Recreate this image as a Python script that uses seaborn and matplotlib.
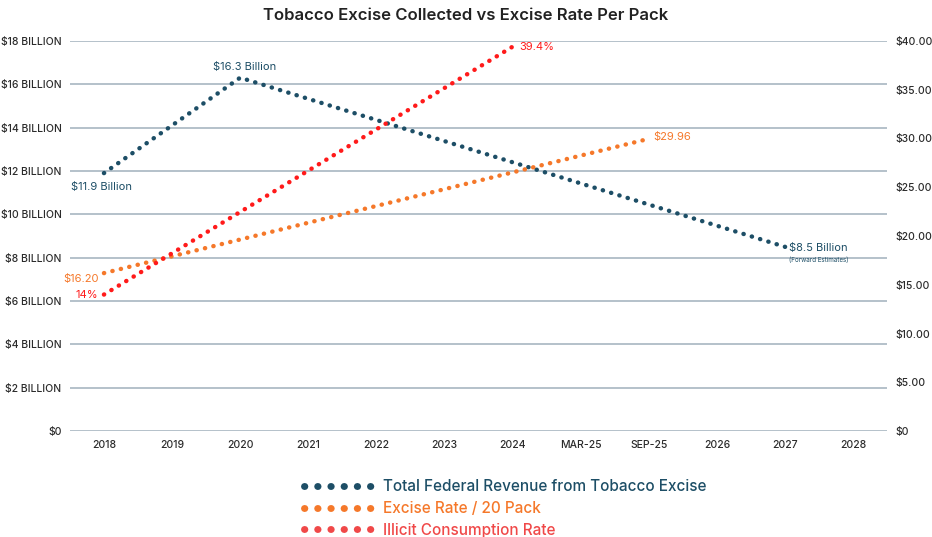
import matplotlib
matplotlib.use("Agg")
import matplotlib.pyplot as plt
from matplotlib.lines import Line2D
import seaborn as sns
import pandas as pd

categories = ["2018", "2019", "2020", "2021", "2022", "2023", "2024",
              "MAR-25", "SEP-25", "2026", "2027", "2028"]

revenue_x = ["2018", "2020", "2027"]
revenue_vals = [11.9, 16.3, 8.5]          # $ billion (left axis)

excise_x = ["2018", "SEP-25"]
excise_vals = [16.20, 29.96]              # $ per 20 pack (right axis)

illicit_x = ["2018", "2024"]
illicit_vals = [14.0, 39.4]               # % (right axis scale)

left_ticks = [0, 2, 4, 6, 8, 10, 12, 14, 16, 18]
left_labels = ["$0"] + [f"${v} BILLION" for v in left_ticks[1:]]
right_ticks = [0, 5, 10, 15, 20, 25, 30, 35, 40]
right_labels = ["$0"] + [f"${v:.2f}" for v in right_ticks[1:]]

NAVY = "#1d4e66"
ORANGE = "#f5782a"
RED = "#ff1a1a"
TXT = "#2b2b2b"

sns.set_theme(style="white")
plt.rcParams["font.family"] = ["Inter", "DejaVu Sans"]

fig = plt.figure(figsize=(9.32, 5.37), dpi=100)
ax = fig.add_axes([0.075, 0.197, 0.877, 0.727])
ax2 = ax.twinx()

pos = {c: i for i, c in enumerate(categories)}
df_rev = pd.DataFrame({"x": [pos[c] for c in revenue_x], "y": revenue_vals})
df_exc = pd.DataFrame({"x": [pos[c] for c in excise_x], "y": excise_vals})
df_ill = pd.DataFrame({"x": [pos[c] for c in illicit_x], "y": illicit_vals})

dot = (0, (0.05, 1.9))
kw = dict(linewidth=3.2, linestyle=dot, dash_capstyle="round")

for a in (ax, ax2):
    for s in a.spines.values():
        s.set_visible(False)

ax.set_ylim(0, 18)
ax2.set_ylim(0, 40)
ax.set_xlim(-0.5, 11.5)
ax.set_yticks(left_ticks)
ax.set_yticklabels(left_labels, fontsize=7.5, color=TXT, fontweight="medium")
ax2.set_yticks(right_ticks)
ax2.set_yticklabels(right_labels, fontsize=7.5, color=TXT, fontweight="medium")
ax.set_xticks(range(len(categories)))
ax.set_xticklabels(categories, fontsize=7.5, color=TXT, fontweight="medium")
ax.tick_params(axis="both", length=0, pad=6)
ax2.tick_params(axis="y", length=0, pad=6)
ax.grid(axis="y", color="#b4c1ca", linewidth=1.4)
ax.grid(axis="x", visible=False)
ax2.grid(False)
ax.set_axisbelow(True)

sns.lineplot(data=df_rev, x="x", y="y", ax=ax, color=NAVY, **kw)
sns.lineplot(data=df_exc, x="x", y="y", ax=ax2, color=ORANGE, **kw)
sns.lineplot(data=df_ill, x="x", y="y", ax=ax2, color=RED, **kw)
ax.set_xlabel(""); ax.set_ylabel("")
ax2.set_xlabel(""); ax2.set_ylabel("")

# annotations
ax.annotate(f"${revenue_vals[0]} Billion", (pos[revenue_x[0]], revenue_vals[0]),
            xytext=(-24, -10), textcoords="offset points", color=NAVY, fontsize=8, va="center")
ax.annotate(f"${revenue_vals[1]} Billion", (pos[revenue_x[1]], revenue_vals[1]),
            xytext=(3, 8), textcoords="offset points", color=NAVY, fontsize=8, ha="center", va="center")
ax.annotate(f"${revenue_vals[2]} Billion", (pos[revenue_x[2]], revenue_vals[2]),
            xytext=(3, -1), textcoords="offset points", color=NAVY, fontsize=8, va="center")
ax.annotate("(Forward Estimates)", (pos[revenue_x[2]], revenue_vals[2]),
            xytext=(3, -9), textcoords="offset points", color=NAVY, fontsize=4.5, va="center")
ax2.annotate(f"${excise_vals[0]:.2f}", (pos[excise_x[0]], excise_vals[0]),
             xytext=(-4, -4), textcoords="offset points", color=ORANGE, fontsize=8, ha="right", va="center")
ax2.annotate(f"${excise_vals[1]:.2f}", (pos[excise_x[1]], excise_vals[1]),
             xytext=(3, 1), textcoords="offset points", color=ORANGE, fontsize=8, va="center")
ax2.annotate(f"{illicit_vals[0]:.0f}%", (pos[illicit_x[0]], illicit_vals[0]),
             xytext=(-4, 0), textcoords="offset points", color=RED, fontsize=8, ha="right", va="center")
ax2.annotate(f"{illicit_vals[1]}%", (pos[illicit_x[1]], illicit_vals[1]),
             xytext=(5, 0), textcoords="offset points", color=RED, fontsize=8, va="center")

fig.text(0.5, 0.972, "Tobacco Excise Collected vs Excise Rate Per Pack",
         ha="center", va="center", fontsize=12, color="#222222", fontweight="semibold")

handles = [Line2D([], [], color=c, linewidth=5, linestyle=(0, (0.05, 1.85)),
                  dash_capstyle="round")
           for c in (NAVY, ORANGE, "#f04848")]
labels = ["Total Federal Revenue from Tobacco Excise", "Excise Rate / 20 Pack",
          "Illicit Consumption Rate"]
leg = fig.legend(handles, labels, loc="upper left", bbox_to_anchor=(0.326, 0.108),
                 frameon=False, handlelength=4.9, handletextpad=0.3,
                 labelspacing=0.45, borderpad=0, borderaxespad=0,
                 prop={"size": 11, "weight": "medium"})
for t, c in zip(leg.get_texts(), (NAVY, ORANGE, "#f04848")):
    t.set_color(c)

fig.savefig("out.png", dpi=100)
